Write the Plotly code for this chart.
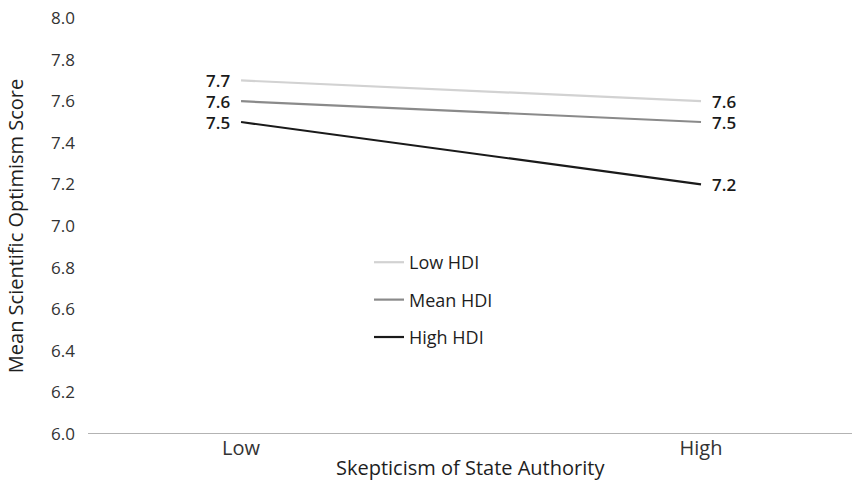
import plotly.graph_objects as go

categories = ["Low", "High"]
series_names = ["Low HDI", "Mean HDI", "High HDI"]
low_hdi = [7.7, 7.6]
mean_hdi = [7.6, 7.5]
high_hdi = [7.5, 7.2]
y_ticks = [6.0, 6.2, 6.4, 6.6, 6.8, 7.0, 7.2, 7.4, 7.6, 7.8, 8.0]

colors = ["#d2d2d2", "#8a8a8a", "#1a1a1a"]
font_family = "'Open Sans', Lato, sans-serif"

fig = go.Figure()
for name, vals, col in zip(series_names, [low_hdi, mean_hdi, high_hdi], colors):
    fig.add_trace(go.Scatter(
        x=[0, 1], y=vals, name=name, mode="lines",
        line=dict(color=col, width=2.2),
        legendgroup=name,
        cliponaxis=False,
    ))
    for i, v in enumerate(vals):
        fig.add_annotation(
            x=i, y=v, xref="x", yref="y", text=f"{v:.1f}", showarrow=False,
            xanchor="right" if i == 0 else "left",
            xshift=-9 if i == 0 else 9,
            font=dict(size=17, color="#1a1a1a", family=font_family, weight=600),
        )

fig.add_annotation(
    x=0.5, y=-0.0817, xref="paper", yref="paper", xanchor="center", yanchor="middle",
    text="Skepticism of State Authority", showarrow=False,
    font=dict(size=20, color="#1e1e1e", family=font_family, weight=500),
)

fig.update_layout(
    width=852, height=485,
    margin=dict(l=88, r=0, t=18, b=51),
    plot_bgcolor="white", paper_bgcolor="white",
    font=dict(family=font_family, color="#222222"),
    showlegend=True,
    legend=dict(
        x=0.3678, y=0.4567, xanchor="left", yanchor="top",
        font=dict(size=18, color="#1e1e1e", weight=500),
        tracegroupgap=11, bgcolor="rgba(0,0,0,0)",
        itemwidth=30,
    ),
    xaxis=dict(
        range=[-0.3327, 1.3282],
        tickmode="array", tickvals=[0, 1], ticktext=categories,
        showgrid=False, zeroline=False,
        showline=False, ticks="",
        tickfont=dict(size=20, color="#333333"),
        ticklabelstandoff=0,
    ),
    yaxis=dict(
        range=[6.0, 8.0],
        tickmode="array", tickvals=y_ticks,
        ticktext=[f"{t:.1f}" for t in y_ticks],
        showgrid=False, zeroline=False, showline=False, ticks="",
        tickfont=dict(size=17, color="#333333"),
        ticklabelstandoff=12,
        title=dict(text="Mean Scientific Optimism Score",
                   font=dict(size=20, color="#1e1e1e", weight=500), standoff=22),
    ),
)

fig.add_shape(type="line", xref="paper", yref="y", x0=0, x1=1, y0=6.0, y1=6.0,
              line=dict(color="#9a9a9a", width=1.5))

fig.write_html("out.html", config={"displayModeBar": False},
               post_script="document.body.style.margin='0';")
